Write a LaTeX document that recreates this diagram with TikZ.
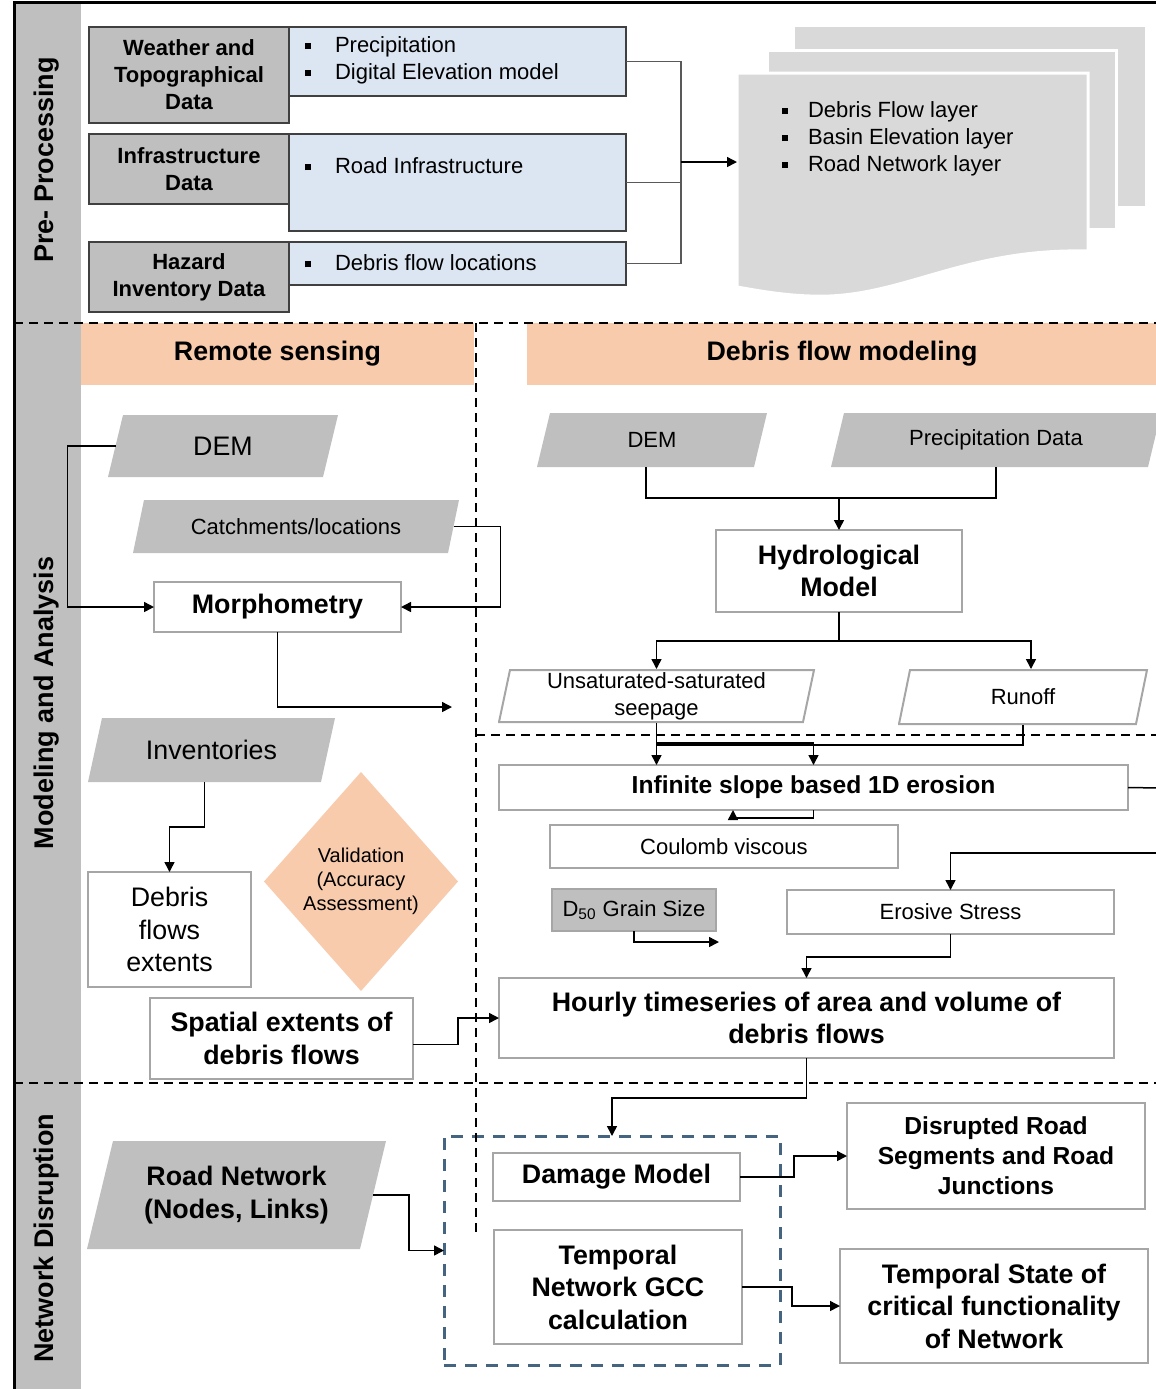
\documentclass[tikz,border=0pt]{standalone}
\usepackage{fontspec}
\setmainfont{Liberation Sans}
\usetikzlibrary{shapes.geometric,arrows.meta}

\definecolor{boxgray}{HTML}{BFBFBF}
\definecolor{docgray}{HTML}{D9D9D9}
\definecolor{lightblue}{HTML}{DCE6F2}
\definecolor{peach}{HTML}{F8CBAD}
\definecolor{boxline}{HTML}{A6A6A6}
\definecolor{darkline}{HTML}{404040}
\definecolor{conngray}{HTML}{595959}
\definecolor{netblue}{HTML}{44647F}

\newcommand{\blt}[1][15pt]{\makebox[#1][l]{\rule[0.3ex]{3.2pt}{3.2pt}}}

\begin{document}
\begin{tikzpicture}[x=0.5pt, y=-0.5pt, >={Triangle[length=5pt,width=5pt]},
    every node/.style={inner sep=0pt, outer sep=0pt},
    fnt/.style={font=\fontsize{11}{13.5}\selectfont},
    fntbig/.style={font=\fontsize{13.4}{16.25}\selectfont},
    fntb/.style={font=\fontsize{13.4}{16.25}\selectfont\bfseries},
    fntmb/.style={font=\fontsize{12.3}{15}\selectfont\bfseries},
    side/.style={rotate=90, font=\fontsize{13.5}{16}\selectfont\bfseries},
    hdr/.style={fill=peach, font=\fontsize{13.4}{16}\selectfont\bfseries},
    srcbox/.style={draw=darkline, fill=boxgray, line width=0.8pt, align=center, font=\fontsize{11}{13.5}\selectfont\bfseries},
    bluebox/.style={draw=darkline, fill=lightblue, line width=0.8pt},
    procbox/.style={draw=boxline, fill=white, line width=1pt, align=center},
    inbox/.style={rectangle, align=center, path picture={
        \fill[boxgray] ([xshift=#1]path picture bounding box.north west) -- (path picture bounding box.north east)
          -- ([xshift=-#1]path picture bounding box.south east) -- (path picture bounding box.south west) -- cycle;}},
    inbox/.default=7pt,
    outbox/.style={rectangle, align=center, path picture={
        \draw[boxline, line width=1pt] ([xshift=#1, yshift=-0.5pt]path picture bounding box.north west)
          -- ([xshift=-0.5pt, yshift=-0.5pt]path picture bounding box.north east)
          -- ([xshift=-#1, yshift=0.5pt]path picture bounding box.south east)
          -- ([xshift=0.5pt, yshift=0.5pt]path picture bounding box.south west) -- cycle;}},
    outbox/.default=6pt,
    conn/.style={line width=0.75pt},
    sepline/.style={line width=0.8pt, dash pattern=on 4.5pt off 3pt}
  ]
  \clip (0,0) rectangle (1156,1389);

  % side bands and frame
  \fill[boxgray] (14,2) rectangle (81,1389);
  \draw[line width=1.5pt] (14,1392) -- (14,2) -- (1160,2);
  \node[side] (lpre) at (47,160) {Pre- Processing};
  \node[side] (lmod) at (47,703) {Modeling and Analysis};
  \node[side] (lnet) at (47,1238) {Network Disruption};

  % pre-processing sources
  \node[srcbox, minimum width=100pt, minimum height=48pt] (wtd) at (189,75) {Weather and\\Topographical\\Data};
  \node[bluebox, minimum width=168.5pt, minimum height=34.5pt] (wtdl) at (457.5,61.5) {};
  \node[srcbox, minimum width=100pt, minimum height=35pt] (infd) at (189,169) {Infrastructure\\Data};
  \node[bluebox, minimum width=168.5pt, minimum height=48.5pt] (infl) at (457.5,182.5) {};
  \node[srcbox, minimum width=100pt, minimum height=35pt] (hazd) at (189,277) {Hazard\\Inventory Data};
  \node[bluebox, minimum width=168.5pt, minimum height=21.5pt] (hazl) at (457.5,263.5) {};

  \node[fnt, anchor=west, align=left] (wtdt) at (305,60.5) {\blt Precipitation\\\blt Digital Elevation model};
  \node[fnt, anchor=west] (inft) at (305,166) {\blt Road Infrastructure};
  \node[fnt, anchor=west] (hazt) at (305,263) {\blt Debris flow locations};

  % layer stack
  \fill[docgray] (795,27) rectangle (1145,206);
  \filldraw[fill=docgray, draw=white, line width=1.5pt] (767,50) rectangle (1116,229);
  \filldraw[fill=docgray, draw=white, line width=1.5pt] (737,73) -- (1088,73) -- (1088,251)
    .. controls (960,248) and (900,300) .. (810,296) .. controls (780,295) and (755,290) .. (737,287) -- cycle;
  \node[fnt, anchor=west, align=left] (layt) at (782,139) {\blt[13pt]Debris Flow layer\\\blt[13pt]Basin Elevation layer\\\blt[13pt]Road Network layer};

  \coordinate (hub) at (681,162);
  \coordinate (lay) at (737,162);
  \draw[conn, conngray] (wtdl.east) -| (hub) |- (hazl.east);
  \draw[conn, conngray] (infl.east) -- (infl.east -| hub);
  \draw[conn, ->] (hub) -- (lay);

  % headers
  \node[hdr, minimum width=196.5pt, minimum height=31pt] (rs) at (277.5,354) {Remote sensing};
  \node[hdr, minimum width=315pt, minimum height=31pt] (dfm) at (842,354) {Debris flow modeling};

  % remote sensing
  \node[inbox=7.5pt, fntbig, minimum width=115pt, minimum height=31pt] (dem1) at (223,446) {DEM};
  \node[inbox=5.5pt, fnt, minimum width=163pt, minimum height=26.5pt] (catch) at (296,526.5) {Catchments/locations};
  \node[procbox, fntb, minimum width=123.5pt, minimum height=25pt] (morph) at (277.5,607) {Morphometry};
  \node[inbox=7pt, fntbig, minimum width=123.5pt, minimum height=32pt] (inv) at (211.5,750) {Inventories};
  \node[procbox, fntbig, minimum width=81.5pt, minimum height=57.5pt] (ext) at (169.5,929.5) {Debris\\flows\\extents};
  \node[diamond, fill=peach, font=\fontsize{10}{12}\selectfont, align=center, minimum width=97pt, minimum height=109.5pt] (val) at (361,881.5) {Validation\\(Accuracy\\Assessment)};
  \node[procbox, fntb, minimum width=131.5pt, minimum height=40.5pt] (spat) at (281.5,1038.5) {Spatial extents of\\debris flows};

  % debris flow modeling
  \node[inbox=6.5pt, fnt, minimum width=115pt, minimum height=27pt] (dem2) at (652,440) {DEM};
  \node[inbox=6.5pt, fnt, minimum width=165pt, minimum height=27pt] (prec) at (996,440) {Precipitation Data};
  \node[procbox, fntb, minimum width=123pt, minimum height=41pt] (hydro) at (839,571) {Hydrological\\Model};
  \node[outbox=6pt, fnt, minimum width=158.5pt, minimum height=27pt] (seep) at (656.5,696) {Unsaturated-saturated\\seepage};
  \node[outbox=6pt, fnt, minimum width=125pt, minimum height=28pt] (run) at (1023,697) {Runoff};
  \node[procbox, fntmb, minimum width=314.5pt, minimum height=22.5pt] (inf) at (813.5,787.5) {Infinite slope based 1D erosion};
  \node[procbox, fnt, minimum width=174pt, minimum height=21.5pt] (cv) at (724,846.5) {Coulomb viscous};
  \node[procbox, fill=boxgray, fnt, minimum width=82pt, minimum height=21pt] (d50) at (634,910) {D\textsubscript{50} Grain Size};
  \node[procbox, fnt, minimum width=163.5pt, minimum height=22pt] (ero) at (950.5,912) {Erosive Stress};
  \node[procbox, fntb, minimum width=307.5pt, minimum height=40pt] (hourly) at (806.5,1018) {Hourly timeseries of area and volume of\\debris flows};

  % network disruption
  \node[inbox=13pt, fntb, minimum width=149.5pt, minimum height=54pt] (road) at (236.5,1195) {Road Network\\(Nodes, Links)};
  \node[draw=netblue, line width=1.5pt, dash pattern=on 6pt off 4.5pt, minimum width=168pt, minimum height=114.5pt] (netbox) at (612,1250.5) {};
  \node[procbox, fntb, minimum width=123.5pt, minimum height=24pt] (dmg) at (616.5,1177) {Damage Model};
  \node[procbox, fntb, minimum width=124pt, minimum height=57pt] (gcc) at (618,1287) {Temporal\\Network GCC\\calculation};
  \node[procbox, fntmb, minimum width=149pt, minimum height=53pt] (dis) at (996,1156) {Disrupted Road\\Segments and Road\\Junctions};
  \node[procbox, fntb, minimum width=154pt, minimum height=57pt] (ts) at (994,1306) {Temporal State of\\critical functionality\\of Network};

  % section borders
  \draw[sepline] (14,323) -- (1160,323);
  \draw[sepline] (14,1083) -- (1160,1083);
  \draw[sepline] (476,323) -- (476,1238);
  \draw[sepline] (476,735) -- (1160,735);

  % connectors remote sensing
  \coordinate (mend) at (452,707);
  \draw[conn, ->] ([xshift=3.75pt]dem1.west) -- ++(-48,0) |- (morph.west);
  \draw[conn, ->] ([xshift=-2.75pt]catch.east) -- ++(47,0) |- (morph.east);
  \draw[conn, ->] (morph.south) |- (mend);
  \draw[conn, ->] ([xshift=-3.5pt]inv.south) -- ++(0,45) -| (ext.north);
  \draw[conn, ->] ([yshift=-3pt]spat.east) -- ++(45,0) |- (hourly.west);

  % connectors debris flow modeling
  \draw[conn] ([xshift=-3pt]dem2.south) -- ++(0,31) -| (prec.south);
  \draw[conn, ->] (hydro.north |- 0,498) -- (hydro.north);
  \draw[conn, ->] (hydro.south) -- ++(0,29) -| (seep.north);
  \draw[conn, ->] (hydro.south) -- ++(0,29) -| ([xshift=4pt]run.north);
  \draw[conn] (run.south) |- (seep.south |- 0,745);
  \draw[conn, ->] (seep.south) -- (seep.south |- inf.north);
  \draw[conn, ->] (seep.south |- 0,743) -| (inf.north);
  \coordinate (redge1) at (1160,788);
  \coordinate (redge2) at (1160,853);
  \coordinate (dend) at (719,942);
  \draw[conn] (inf.east) -- (redge1);
  \draw[conn, ->] (inf.south) -- ++(0,8) -| ([xshift=4.5pt]cv.north |- inf.south);
  \draw[conn, ->] (redge2) -| (ero.north);
  \draw[conn, ->] (d50.south) |- (dend);
  \draw[conn, ->] (ero.south) -- ++(0,23) -| (hourly.north);
  \draw[conn, ->] (hourly.south) -- ++(0,40) -| (netbox.north);

  % connectors network disruption
  \draw[conn, ->] ([xshift=-6.5pt]road.east) -- ++(36,0) |- (netbox.west);
  \draw[conn, ->] (dmg.east) -- ++(54,0) |- (dis.west);
  \draw[conn, ->] (gcc.east) -- ++(50,0) |- (ts.west);
\end{tikzpicture}
\end{document}
